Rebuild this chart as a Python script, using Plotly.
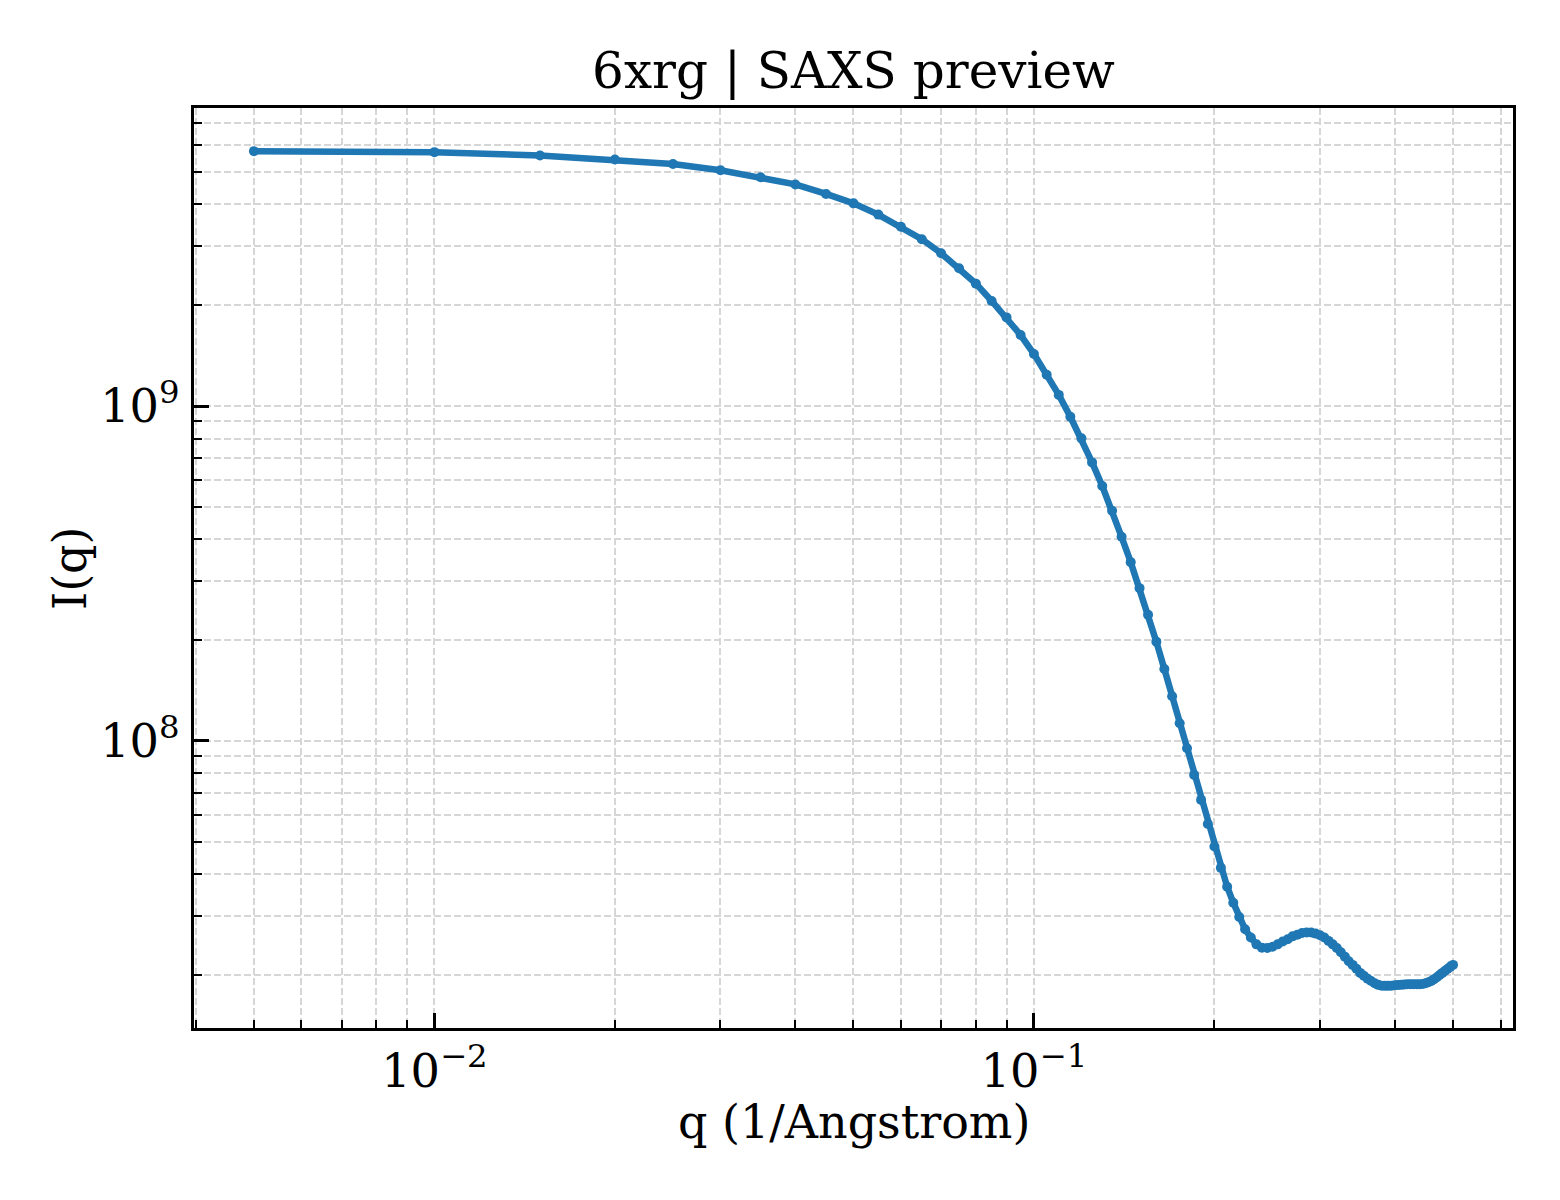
import plotly.graph_objects as go

q = [0.005, 0.010, 0.015, 0.020, 0.025, 0.030, 0.035, 0.040, 0.045, 0.050,
     0.055, 0.060, 0.065, 0.070, 0.075, 0.080, 0.085, 0.090, 0.095, 0.100,
     0.105, 0.110, 0.115, 0.120, 0.125, 0.130, 0.135, 0.140, 0.145, 0.150,
     0.155, 0.160, 0.165, 0.170, 0.175, 0.180, 0.185, 0.190, 0.195, 0.200,
     0.205, 0.210, 0.215, 0.220, 0.225, 0.230, 0.235, 0.240, 0.245, 0.250,
     0.255, 0.260, 0.265, 0.270, 0.275, 0.280, 0.285, 0.290, 0.295, 0.300,
     0.305, 0.310, 0.315, 0.320, 0.325, 0.330, 0.335, 0.340, 0.345, 0.350,
     0.355, 0.360, 0.365, 0.370, 0.375, 0.380, 0.385, 0.390, 0.395, 0.400,
     0.405, 0.410, 0.415, 0.420, 0.425, 0.430, 0.435, 0.440, 0.445, 0.450,
     0.455, 0.460, 0.465, 0.470, 0.475, 0.480, 0.485, 0.490, 0.495, 0.500]

intensity = [5.77e9, 5.73e9, 5.60e9, 5.45e9, 5.28e9, 5.06e9, 4.82e9, 4.59e9, 4.30e9, 4.03e9,
             3.73e9, 3.43e9, 3.15e9, 2.86e9, 2.58e9, 2.32e9, 2.06e9, 1.84e9, 1.63e9, 1.43e9,
             1.24e9, 1.08e9, 9.29e8, 8.01e8, 6.79e8, 5.77e8, 4.87e8, 4.07e8, 3.42e8, 2.86e8,
             2.38e8, 1.98e8, 1.64e8, 1.36e8, 1.13e8, 9.51e7, 7.92e7, 6.67e7, 5.65e7, 4.84e7,
             4.18e7, 3.67e7, 3.29e7, 2.98e7, 2.74e7, 2.59e7, 2.47e7, 2.415e7, 2.41e7, 2.43e7,
             2.47e7, 2.52e7, 2.56e7, 2.61e7, 2.64e7, 2.67e7, 2.68e7, 2.68e7, 2.66e7, 2.63e7,
             2.59e7, 2.53e7, 2.47e7, 2.41e7, 2.34e7, 2.27e7, 2.20e7, 2.145e7, 2.09e7, 2.03e7,
             1.99e7, 1.95e7, 1.92e7, 1.89e7, 1.87e7, 1.86e7, 1.857e7, 1.857e7, 1.86e7, 1.865e7,
             1.868e7, 1.87e7, 1.875e7, 1.878e7, 1.878e7, 1.878e7, 1.878e7, 1.878e7, 1.88e7, 1.89e7,
             1.905e7, 1.92e7, 1.945e7, 1.97e7, 2.00e7, 2.03e7, 2.06e7, 2.09e7, 2.12e7, 2.145e7]

FONT = "DejaVu Serif"
GRID = "#d6d6d6"

fig = go.Figure(go.Scatter(x=q, y=intensity, mode="lines+markers",
                           line=dict(color="#1f77b4", width=6.5),
                           marker=dict(color="#1f77b4", size=10)))

axis_common = dict(
    type="log", dtick=1, exponentformat="power", showexponent="all",
    ticks="inside", ticklen=15, tickwidth=2.5, tickcolor="black",
    showline=True, mirror=True, linewidth=3, linecolor="black",
    showgrid=True, gridcolor=GRID, gridwidth=1.5, griddash="7px,3px",
    zeroline=False, tickfont=dict(family=FONT, size=37, color="black"),
    minor=dict(dtick="D1", ticks="inside", ticklen=8, tickwidth=2, tickcolor="black",
               showgrid=True, gridcolor=GRID, gridwidth=1.5, griddash="7px,3px"),
)

fig.update_xaxes(axis_common, range=[-2.401, -0.201], ticklabelstandoff=2)
fig.update_yaxes(axis_common, range=[7.143, 9.89], ticklabelstandoff=4)

# axis labels placed as annotations (matplotlib-like positions)
fig.add_annotation(text="q (1/Angstrom)", xref="paper", yref="paper", x=0.5, y=-0.102,
                   xanchor="center", yanchor="middle", showarrow=False,
                   font=dict(family=FONT, size=46, color="black"))
fig.add_annotation(text="I(q)", xref="paper", yref="paper", x=-0.094, y=0.5,
                   xanchor="center", yanchor="middle", showarrow=False, textangle=-90,
                   font=dict(family=FONT, size=46, color="black"))

fig.update_layout(
    width=1560, height=1200,
    margin=dict(l=194, r=47, t=108, b=172),
    plot_bgcolor="white", paper_bgcolor="white",
    font=dict(family=FONT, color="black"),
    showlegend=False,
    title=dict(text="6xrg | SAXS preview", x=0.5, xref="paper",
               y=1 - 70 / 1200, yref="container", yanchor="middle",
               font=dict(family=FONT, size=50, color="black")),
)

fig.write_html("out.html", config={"displayModeBar": False},
               post_script="document.body.style.margin='0px';")
